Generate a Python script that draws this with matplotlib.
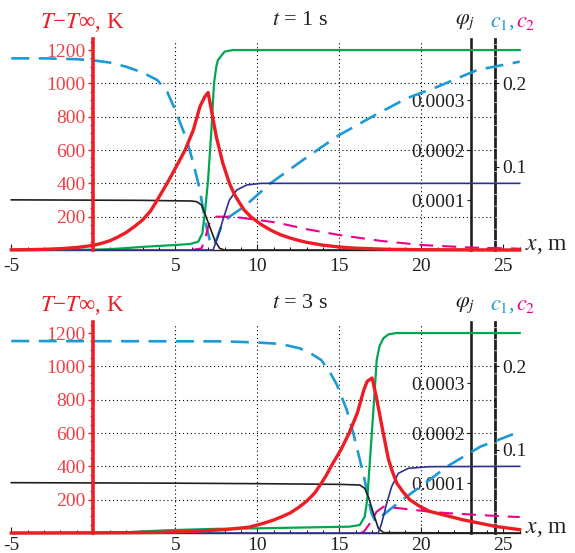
import matplotlib
matplotlib.use("Agg")
import matplotlib.pyplot as plt
from matplotlib.ticker import FixedLocator

plt.rcParams['font.family'] = ['Liberation Serif', 'DejaVu Serif']
plt.rcParams['mathtext.fontset'] = 'stix'

# ---- t = 1 s ----
x_T1 = [-5, -4, -3, -2, -1, 0, 0.5, 1, 1.5, 2, 2.5, 3, 3.5, 3.9, 4.2, 4.5, 5, 5.3, 5.6, 6.1,
        6.5, 6.8, 7.0, 7.2, 7.5, 7.9, 8.3, 8.6, 8.9, 9.2, 9.6, 10.2, 10.8, 11.4, 12, 12.5,
        13, 14, 15, 16, 18, 20, 23, 26]
T1 = [1, 2, 4, 8, 15, 28, 40, 55, 78, 105, 140, 180, 235, 300, 350, 400, 490, 545, 600, 720,
      860, 920, 945, 840, 680, 520, 400, 335, 285, 240, 200, 155, 120, 92, 72, 58,
      46, 29, 18, 11, 4, 2, 1, 0]
x_G1 = [-5, 0, 1, 1.8, 3.2, 5, 5.9, 6.4, 6.65, 6.8, 7.0, 7.2, 7.36, 7.5, 7.6, 8.0, 8.5, 26]
G1 = [0, 2, 5, 10, 20, 30, 36, 50, 100, 220, 420, 720, 1000, 1100, 1140, 1190, 1200, 1200]
x_K1 = [-5, 3, 6.0, 6.3, 6.6, 6.8, 7.1, 7.4, 7.7, 8.0, 26]
K1 = [301, 298, 294, 290, 270, 220, 140, 60, 10, 0, 0]
x_N1 = [-5, 7.3, 7.6, 7.9, 8.3, 8.75, 9.35, 10.2, 26]
N1 = [0, 0, 80, 180, 300, 360, 390, 400, 400]
x_B1 = [-5, -3, -1, 0, 1, 2, 3, 3.9, 4.5, 5.0, 5.7, 6.1, 6.5, 6.8, 7.1, 7.3, 7.5, 7.8,
        8.3, 9.2, 10.8, 12, 13, 14.4, 15, 17, 19.1, 21, 23.4, 26]
B1 = [1150, 1150, 1145, 1138, 1125, 1100, 1065, 1020, 950, 840, 660, 520, 360, 180, 60, 25,
      60, 140, 200, 260, 400, 485, 555, 650, 690, 800, 910, 980, 1080, 1130]
x_M1 = [6.0, 6.6, 6.8, 7.0, 7.2, 7.5, 8.5, 10.8, 11.4, 13, 15, 17.5, 20, 23, 26]
M1 = [0, 10, 60, 140, 190, 200, 200, 170, 160, 125, 90, 55, 30, 15, 8]

# ---- t = 3 s ----
x_T3 = [-5, 0, 2, 4, 6, 8, 9.5, 10, 10.5, 11, 11.5, 12, 12.5, 13, 13.5, 13.9, 14.2, 14.5,
        15.1, 15.6, 16.1, 16.5, 16.7, 17.0, 17.25, 17.6, 18.0, 18.25, 18.5, 18.9, 19.3,
        19.9, 20.5, 21.5, 22.5, 23.5, 24.5, 26]
T3 = [0, 1, 2, 4, 10, 20, 35, 48, 62, 78, 98, 120, 152, 190, 240, 298, 345, 400,
      500, 600, 720, 860, 910, 930, 820, 640, 440, 365, 300, 245, 200,
      160, 130, 105, 80, 60, 40, 20]
x_G3 = [-5, 1, 2.2, 3, 5, 7.5, 10, 15.6, 16.25, 16.55, 16.7, 16.87, 17.08, 17.28, 17.45,
        17.68, 18.0, 18.5, 26]
G3 = [0, 2, 5, 10, 18, 25, 28, 38, 48, 98, 198, 438, 738, 1038, 1120, 1168, 1192, 1200, 1200]
x_K3 = [-5, 5, 10, 15, 16.25, 16.55, 16.77, 17.08, 17.38, 17.7, 26]
K3 = [302, 299, 296, 292, 288, 268, 218, 118, 28, 2, 0]
x_N3 = [-5, 17.38, 17.58, 17.89, 18.19, 18.6, 19.2, 20.5, 26]
N3 = [0, 0, 58, 178, 278, 358, 388, 398, 400]
x_B3 = [-5, 8, 10, 11.4, 12.6, 13.3, 13.9, 14.4, 14.85, 15.45, 15.85, 16.25, 16.55, 16.77,
        16.97, 17.2, 17.4, 17.7, 18.3, 19.1, 20.5, 21.55, 23.6, 26]
B3 = [1152, 1150, 1143, 1135, 1108, 1075, 1038, 970, 890, 740, 600, 440, 318, 200,
      118, 70, 80, 110, 158, 218, 318, 398, 518, 608]
x_M3 = [16.3, 16.5, 16.87, 17.28, 17.7, 18.7, 20.5, 21.5, 23.5, 25.4, 26]
M3 = [0, 8, 58, 128, 158, 148, 128, 120, 108, 98, 96]

x_ticks = [-5, 5, 10, 15, 20, 25]
T_ticks = [200, 400, 600, 800, 1000, 1200]
phi_ticks = [0.0001, 0.0002, 0.0003]
c_ticks = [0.1, 0.2]
x_phi = 23
x_c = 24.5

RED = '#ee1c24'
GREEN = '#00a651'
BLUE = '#1c9ad6'
MAGENTA = '#ec008c'
NAVY = '#2e3192'
BLACK = '#231f20'

fig = plt.figure(figsize=(5.75, 5.53), dpi=100)


def panel(bottom, data, tlabel, xpad):
    ax = fig.add_axes([11.3 / 575, bottom, 508.4 / 575, 210.8 / 553])
    ax.set_xlim(-5, 26)
    ax.set_ylim(0, 1265)
    (xT, T), (xG, G), (xK, K), (xN, N), (xB, B), (xM, M) = data

    # dotted grid
    for g in x_ticks[1:-1]:
        ax.plot([g, g], [0, 1250], color='black', lw=0.8, ls=(0, (1, 2.5)), zorder=1)
    for g in T_ticks[:-1]:
        ax.plot([0, x_c], [g, g], color='black', lw=0.8, ls=(0, (1, 2.5)), zorder=1)

    ax.plot(xB, B, color=BLUE, lw=1.9, ls=(0, (6.8, 3.6)), clip_on=False, zorder=3)
    ax.plot(xM, M, color=MAGENTA, lw=1.5, ls=(0, (6.7, 4.3)), clip_on=False, zorder=3)
    ax.plot(xG, G, color=GREEN, lw=1.6, clip_on=False, zorder=3)
    ax.plot(xK, K, color=BLACK, lw=1.2, clip_on=False, zorder=3)
    ax.plot(xN, N, color=NAVY, lw=1.2, clip_on=False, zorder=3)
    ax.plot(xT, T, color=RED, lw=2.4, clip_on=False, zorder=4)

    for s in ['top', 'right']:
        ax.spines[s].set_visible(False)
    ax.spines['left'].set_position(('data', 0))
    ax.spines['left'].set_color(RED)
    ax.spines['left'].set_linewidth(2.6)
    ax.spines['left'].set_zorder(5)
    ax.spines['bottom'].set_linewidth(1.0)
    ax.spines['bottom'].set_color(BLACK)

    ax.xaxis.set_major_locator(FixedLocator(x_ticks))
    ax.xaxis.set_minor_locator(FixedLocator([v for v in range(-4, 27) if v % 5 != 0]))
    ax.yaxis.set_major_locator(FixedLocator(T_ticks))
    ax.yaxis.set_minor_locator(FixedLocator([v for v in range(50, 1265, 50) if v % 200 != 0]))
    ax.set_xticklabels([str(v) for v in x_ticks])
    ax.tick_params(axis='x', which='major', direction='in', length=4, width=0.8,
                   labelsize=14, pad=xpad, colors=BLACK)
    ax.tick_params(axis='x', which='minor', direction='in', length=2.5, width=0.7)
    ax.tick_params(axis='y', which='major', direction='out', length=3.5, width=1.0,
                   labelsize=14, pad=2, color=RED, labelcolor='#f04045')
    ax.tick_params(axis='y', which='minor', direction='out', length=2, width=0.8, color=RED)

    phi = ax.secondary_yaxis(x_phi, functions=(lambda v: v / 3e6, lambda p: p * 3e6),
                             transform=ax.transData)
    phi.set_alignment('left')
    phi.set_yticks(phi_ticks, ['0.0001', '0.0002', '0.0003'])
    phi.spines['left'].set_linewidth(1.9)
    phi.spines['left'].set_color(BLACK)
    phi.tick_params(axis='y', direction='out', length=3, width=0.8, labelsize=14, pad=1,
                    colors=BLACK)

    cax = ax.secondary_yaxis(x_c, functions=(lambda v: v / 5000, lambda c: c * 5000),
                             transform=ax.transData)
    cax.set_yticks(c_ticks, ['0.1', '0.2'])
    cax.spines['right'].set_linewidth(2.0)
    cax.spines['right'].set_color(BLACK)
    cax.spines['right'].set_linestyle((0, (2.9, 1.25)))
    cax.tick_params(axis='y', direction='out', length=3, width=0.8, labelsize=14, pad=2,
                    colors=BLACK)

    ax.text(-3.25, 1368, '$T$\u2212$T$\u221e, K', color=RED, fontsize=16.5,
            ha='left', va='center', clip_on=False)
    ax.text(12.6, 1375, tlabel, color=BLACK, fontsize=16, ha='center', va='center')
    ax.text(22.66, 1365, r'$\varphi_j$', color=BLACK, fontsize=16, ha='center', va='center')
    ax.text(24.2, 1365, '$c_1$,', color=BLUE, fontsize=16, ha='left', va='center')
    ax.text(25.75, 1365, '$c_2$', color=MAGENTA, fontsize=16, ha='left', va='center')
    ax.text(26.35, 30, '$x$, m', color=BLACK, fontsize=17, ha='left', va='center',
            clip_on=False)
    return ax


panel((553 - 250) / 553, [(x_T1, T1), (x_G1, G1), (x_K1, K1), (x_N1, N1), (x_B1, B1),
                          (x_M1, M1)], '$t$ = 1 s', 6)
panel(20 / 553, [(x_T3, T3), (x_G3, G3), (x_K3, K3), (x_N3, N3), (x_B3, B3),
                 (x_M3, M3)], '$t$ = 3 s', 3)

fig.savefig('out.png', dpi=100)
